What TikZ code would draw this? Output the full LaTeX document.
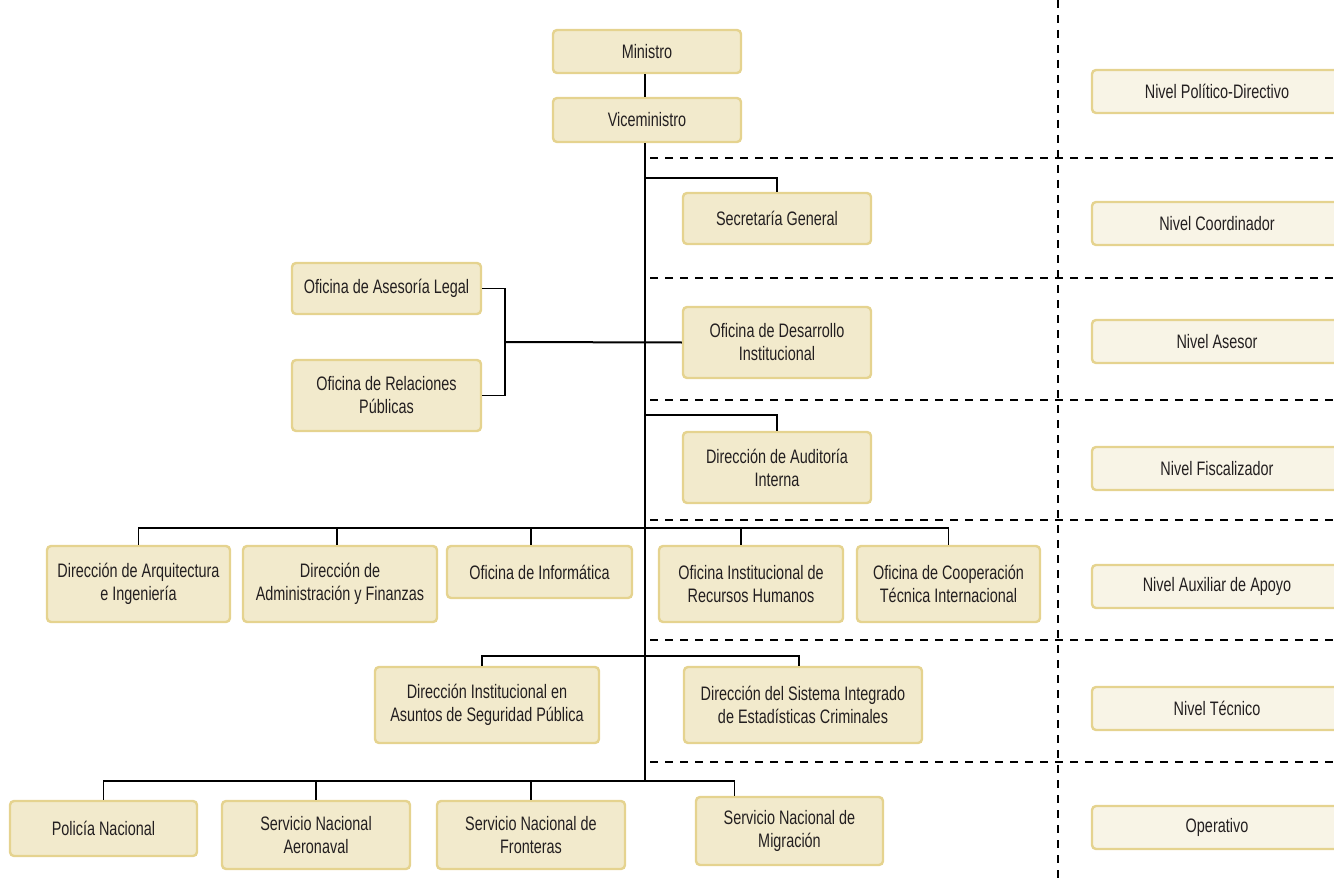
\documentclass[tikz,border=0pt]{standalone}
\usepackage{fontspec}
\setmainfont{Liberation Sans}[FakeStretch=0.74]
\usetikzlibrary{calc}
\definecolor{boxfill}{RGB}{242,234,204}
\definecolor{boxedge}{RGB}{229,211,143}
\definecolor{lvlfill}{RGB}{248,244,230}
\definecolor{txt}{RGB}{35,31,32}
\begin{document}
\begin{tikzpicture}[x=1pt,y=-1pt,
  orgbox/.style 2 args={draw=boxedge, fill=boxfill, line width=2.4pt, rounded corners=4pt,
    align=center, text=txt, font=\fontsize{19.5}{23}\selectfont, inner sep=0pt,
    minimum width=#1pt, minimum height=#2pt},
  lvlbox/.style={orgbox={250}{43}, fill=lvlfill},
  conn/.style={draw=black, line width=1.2pt},
  trunk/.style={draw=black, line width=2pt},
  sep/.style={draw=black, line width=1.3pt, dash pattern=on 8pt off 7pt}]
\useasboundingbox (0,0) rectangle (1334,880);
\clip (0,0) rectangle (1334,880);

% level separators
\foreach \yy in {158,278,400,520,640,762}
  \draw[sep] (650,\yy) -- (1334,\yy);
\draw[sep] (1058,0) -- (1058,880);

% level boxes
\node[lvlbox] (l1) at (1217,91.5) {Nivel Político-Directivo};
\node[lvlbox] (l2) at (1217,223.5) {Nivel Coordinador};
\node[lvlbox] (l3) at (1217,341.5) {Nivel Asesor};
\node[lvlbox] (l4) at (1217,468.5) {Nivel Fiscalizador};
\node[lvlbox] (l5) at (1217,586.5) {Nivel Auxiliar de Apoyo};
\node[lvlbox] (l6) at (1217,708.5) {Nivel Técnico};
\node[lvlbox] (l7) at (1217,827.5) {Operativo};

% org boxes
\node[orgbox={188}{43}] (min) at (647,51.5) {Ministro};
\node[orgbox={188}{44}] (vice) at (647,120) {Viceministro};
\node[orgbox={188}{51}] (sec) at (777,218.5) {Secretaría General};
\node[orgbox={189}{51}] (legal) at (386.5,288.5) {Oficina de Asesoría Legal};
\node[orgbox={189}{71}] (rel) at (386.5,395.5) {Oficina de Relaciones\\Públicas};
\node[orgbox={188}{71}] (des) at (777,342.5) {Oficina de Desarrollo\\Institucional};
\node[orgbox={188}{71}] (aud) at (777,467.5) {Dirección de Auditoría\\Interna};
\node[orgbox={183}{76}] (arq) at (138.5,584) {Dirección de Arquitectura\\e Ingeniería};
\node[orgbox={194}{76}] (adm) at (340,584) {Dirección de\\Administración y Finanzas};
\node[orgbox={185}{52}] (inf) at (539.5,572) {Oficina de Informática};
\node[orgbox={184}{76}] (rrhh) at (751,584) {Oficina Institucional de\\Recursos Humanos};
\node[orgbox={183}{76}] (coop) at (948.5,584) {Oficina de Cooperación\\Técnica Internacional};
\node[orgbox={224}{76}] (seg) at (487,705) {Dirección Institucional en\\Asuntos de Seguridad Pública};
\node[orgbox={238}{76}] (est) at (803,705) {Dirección del Sistema Integrado\\de Estadísticas Criminales};
\node[orgbox={187}{55}] (pol) at (103.5,828.5) {Policía Nacional};
\node[orgbox={188}{68}] (aer) at (316,835) {Servicio Nacional\\Aeronaval};
\node[orgbox={188}{68}] (fro) at (531,835) {Servicio Nacional de\\Fronteras};
\node[orgbox={187}{68}] (mig) at (789.5,831) {Servicio Nacional de\\Migración};

% coordinates
\coordinate (tend) at (645,781);
\coordinate (tsec) at (645,178);
\coordinate (brk) at (505,342);
\coordinate (taud) at (645,415);
\coordinate (bus1) at (645,528);
\coordinate (bus2) at (645,656);
\coordinate (dadm) at ($(adm.north)+(-3,0)$);
\coordinate (dinf) at ($(inf.north)+(-8.5,0)$);
\coordinate (drrhh) at ($(rrhh.north)+(-10,0)$);
\coordinate (dseg) at ($(seg.north)+(-5,0)$);
\coordinate (dest) at ($(est.north)+(-4,0)$);
\coordinate (dmig) at ($(mig.north)+(-55,0)$);

% connectors
\draw[trunk] (min.south -| tend) -- (vice.north -| tend);
\draw[trunk] (vice.south -| tend) -- (tend);
\draw[conn] (tsec) -| (sec.north);
\draw[conn] (legal.east) -| (brk) |- (rel.east);
\draw[trunk] (brk) -- (des.west);
\draw[conn] (taud) -| (aud.north);
\draw[conn] (arq.north) |- (bus1) -| (coop.north);
\draw[conn] (dadm) -- (dadm |- bus1);
\draw[conn] (dinf) -- (dinf |- bus1);
\draw[conn] (drrhh) -- (drrhh |- bus1);
\draw[conn] (dseg) |- (bus2) -| (dest);
\draw[conn] (pol.north) |- (tend) -| (dmig);
\draw[conn] (aer.north) -- (aer.north |- tend);
\draw[conn] (fro.north) -- (fro.north |- tend);
\end{tikzpicture}
\end{document}
